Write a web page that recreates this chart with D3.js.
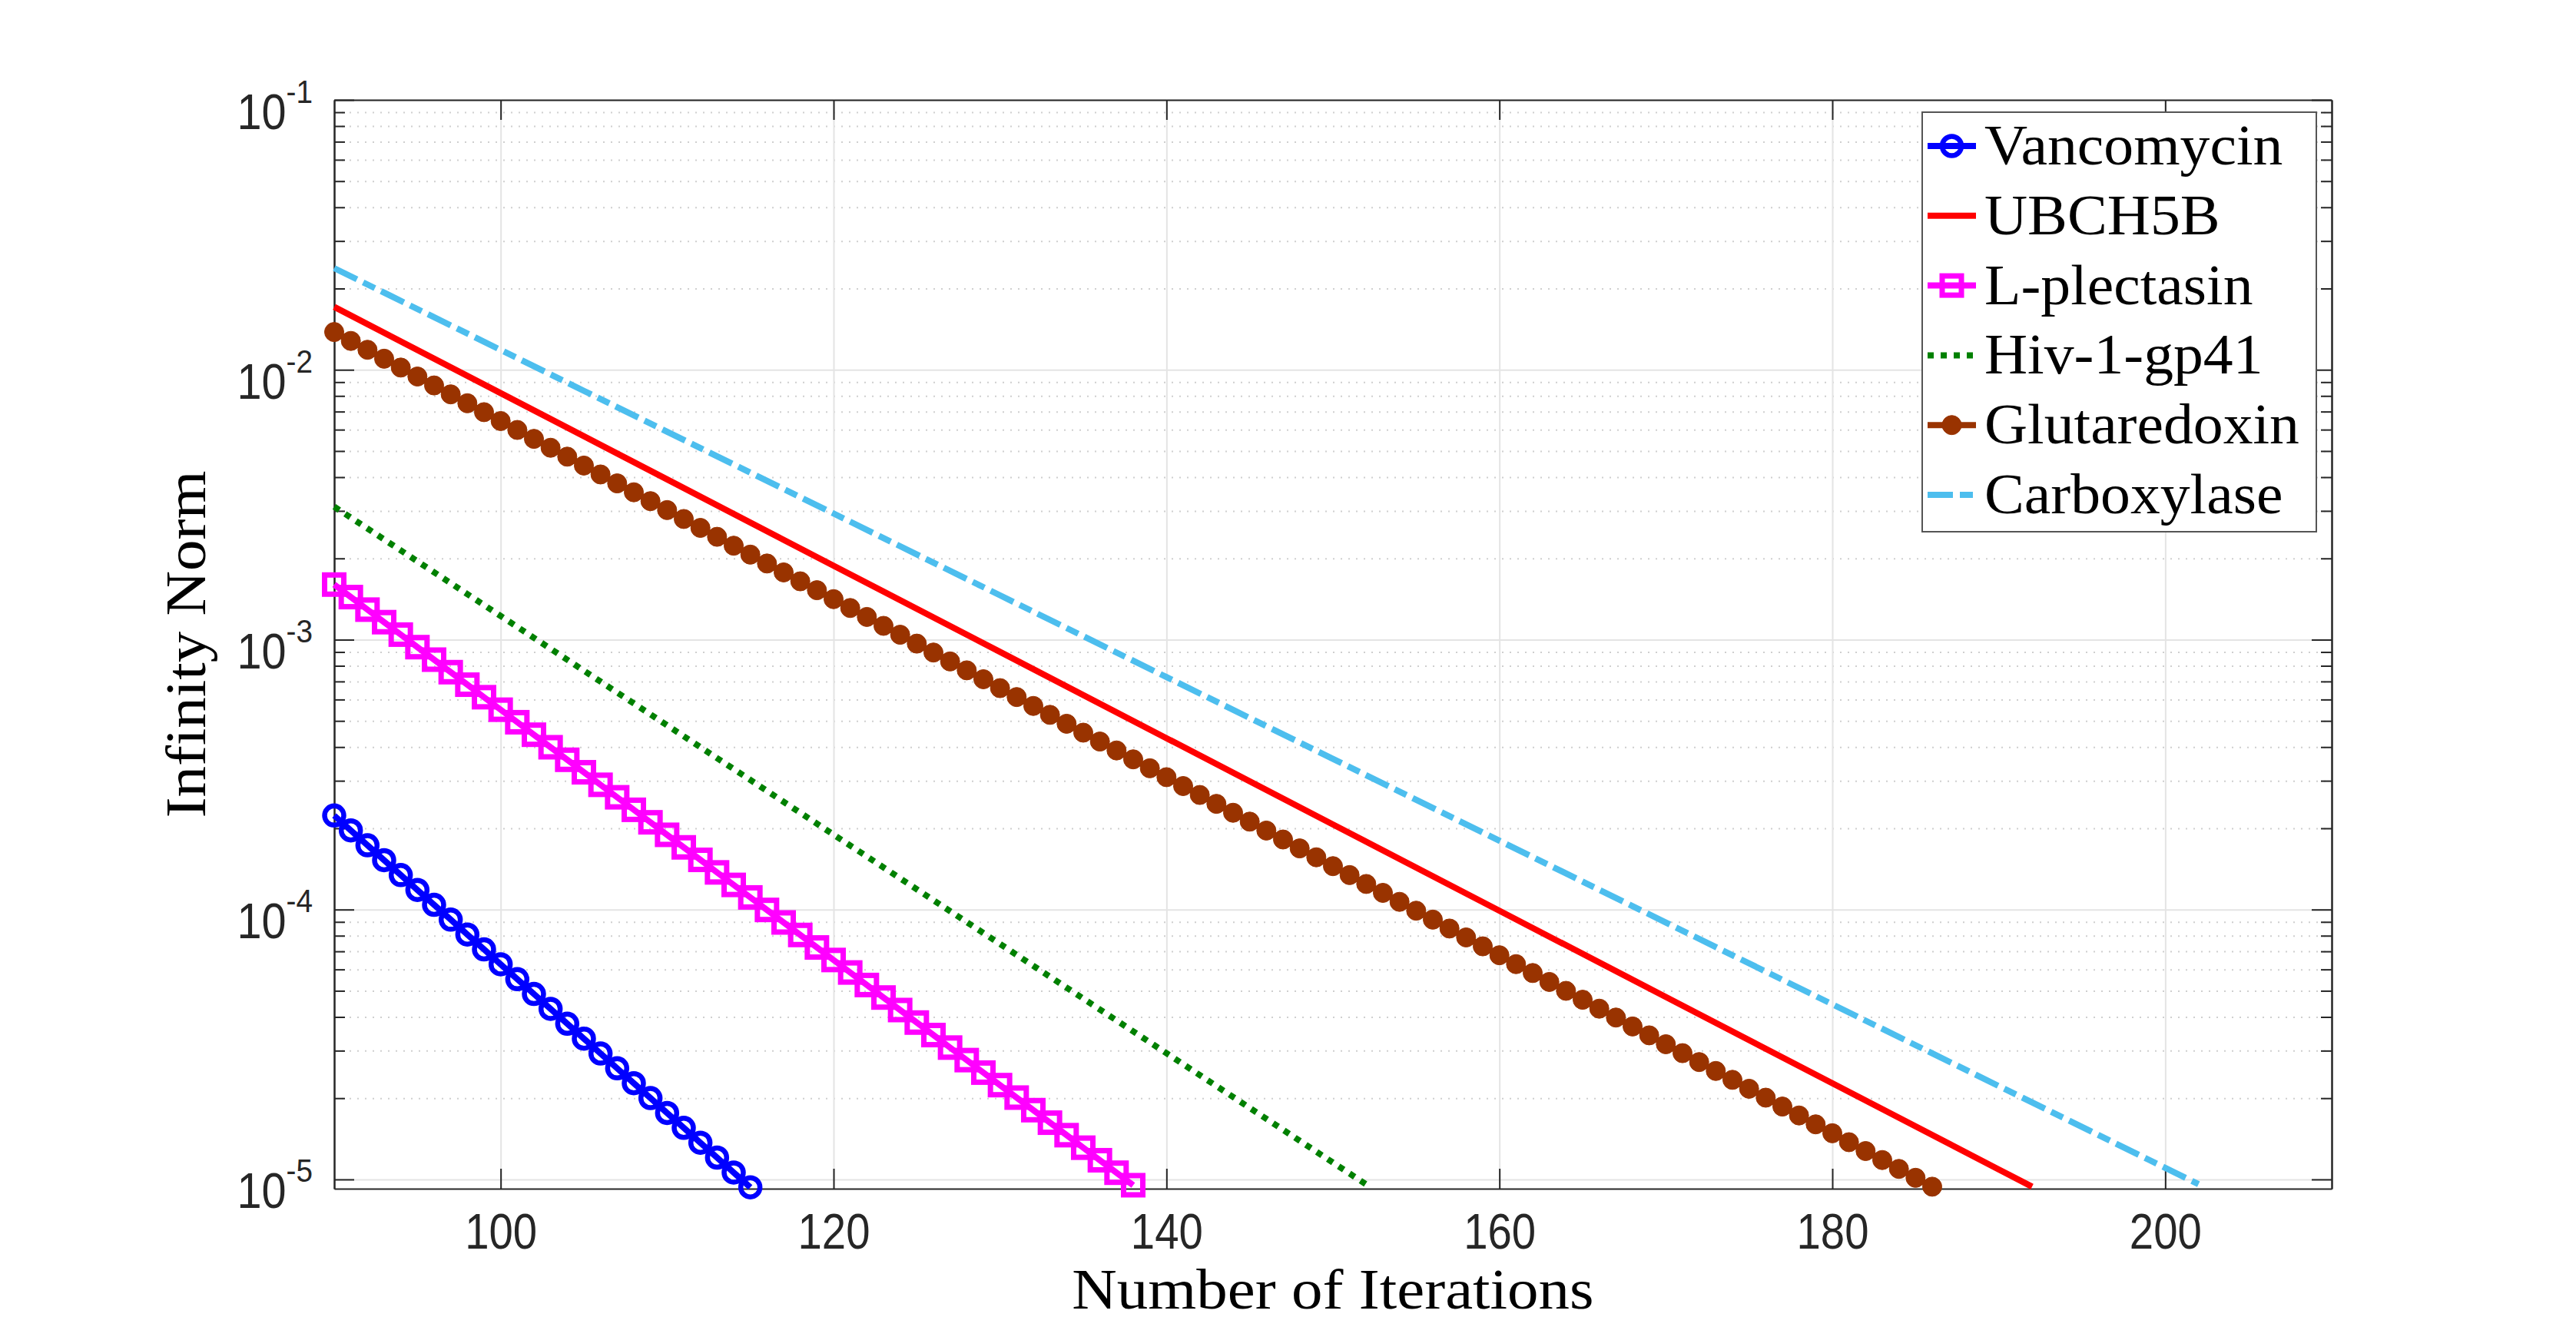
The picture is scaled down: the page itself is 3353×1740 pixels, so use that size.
<!DOCTYPE html>
<html lang="en">
<head>
<meta charset="UTF-8">
<title>Infinity Norm vs Number of Iterations</title>
<script src="https://cdn.jsdelivr.net/npm/d3@7"></script>
<style>
  html, body { margin: 0; padding: 0; background: #fff; }
  svg { display: block; }
</style>
</head>
<body>
<div id="chart"></div>
<script>
// ---- data ----
const xTicks = [100, 120, 140, 160, 180, 200];
const yTicks = [1e-5, 1e-4, 1e-3, 1e-2, 1e-1];
const yTickPowers = ["-5", "-4", "-3", "-2", "-1"];
const names = ["Vancomycin", "UBCH5B", "L-plectasin", "Hiv-1-gp41", "Glutaredoxin", "Carboxylase"];
const firstIter = 90;

// marker series: one value per iteration, starting at firstIter
const vancomycin = [2.230e-4, 1.965e-4, 1.730e-4, 1.524e-4, 1.342e-4, 1.182e-4, 1.041e-4, 9.175e-5,
  8.080e-5, 7.120e-5, 6.270e-5, 5.520e-5, 4.865e-5, 4.285e-5, 3.775e-5, 3.325e-5, 2.929e-5, 2.580e-5,
  2.273e-5, 2.002e-5, 1.763e-5, 1.553e-5, 1.368e-5, 1.205e-5, 1.061e-5, 9.350e-6];

const lplectasin = [1.600e-3, 1.438e-3, 1.292e-3, 1.161e-3, 1.044e-3, 9.382e-4, 8.432e-4, 7.578e-4,
  6.811e-4, 6.121e-4, 5.501e-4, 4.944e-4, 4.444e-4, 3.994e-4, 3.589e-4, 3.226e-4, 2.899e-4, 2.606e-4,
  2.342e-4, 2.105e-4, 1.892e-4, 1.700e-4, 1.528e-4, 1.373e-4, 1.234e-4, 1.109e-4, 9.968e-5, 8.958e-5,
  8.051e-5, 7.236e-5, 6.503e-5, 5.845e-5, 5.253e-5, 4.721e-5, 4.243e-5, 3.813e-5, 3.427e-5, 3.080e-5,
  2.768e-5, 2.488e-5, 2.236e-5, 2.010e-5, 1.806e-5, 1.623e-5, 1.459e-5, 1.311e-5, 1.178e-5, 1.059e-5,
  9.520e-6];

const glutaredoxin = [1.380e-2, 1.279e-2, 1.186e-2, 1.099e-2, 1.019e-2, 9.440e-3, 8.749e-3, 8.109e-3,
  7.516e-3, 6.966e-3, 6.457e-3, 5.985e-3, 5.547e-3, 5.141e-3, 4.765e-3, 4.417e-3, 4.094e-3, 3.794e-3,
  3.517e-3, 3.260e-3, 3.021e-3, 2.800e-3, 2.595e-3, 2.405e-3, 2.229e-3, 2.066e-3, 1.915e-3, 1.775e-3,
  1.645e-3, 1.525e-3, 1.413e-3, 1.310e-3, 1.214e-3, 1.125e-3, 1.043e-3, 9.668e-4, 8.960e-4, 8.305e-4,
  7.698e-4, 7.135e-4, 6.613e-4, 6.129e-4, 5.681e-4, 5.265e-4, 4.880e-4, 4.523e-4, 4.193e-4, 3.886e-4,
  3.602e-4, 3.338e-4, 3.094e-4, 2.868e-4, 2.658e-4, 2.464e-4, 2.284e-4, 2.117e-4, 1.962e-4, 1.818e-4,
  1.685e-4, 1.562e-4, 1.448e-4, 1.342e-4, 1.244e-4, 1.153e-4, 1.068e-4, 9.901e-5, 9.177e-5, 8.505e-5,
  7.883e-5, 7.307e-5, 6.772e-5, 6.277e-5, 5.818e-5, 5.392e-5, 4.998e-5, 4.632e-5, 4.293e-5, 3.979e-5,
  3.688e-5, 3.419e-5, 3.169e-5, 2.937e-5, 2.722e-5, 2.523e-5, 2.339e-5, 2.168e-5, 2.009e-5, 1.862e-5,
  1.726e-5, 1.600e-5, 1.483e-5, 1.374e-5, 1.274e-5, 1.180e-5, 1.094e-5, 1.014e-5, 9.400e-6];

// plain line series (no markers), read at these iterations
const hivIter = [90, 100, 110, 120, 130, 140, 150, 152];
const hivVals = [3.110e-3, 1.224e-3, 4.816e-4, 1.895e-4, 7.457e-5, 2.935e-5, 1.155e-5, 9.580e-6];

const ubchIter = [90, 100, 110, 120, 130, 140, 150, 160, 170, 180, 190, 192];
const ubchVals = [1.710e-2, 8.194e-3, 3.925e-3, 1.880e-3, 9.007e-4, 4.315e-4, 2.067e-4, 9.900e-5,
  4.744e-5, 2.273e-5, 1.089e-5, 9.400e-6];

const carbIter = [90, 100, 110, 120, 130, 140, 150, 160, 170, 180, 190, 200, 202];
const carbVals = [2.380e-2, 1.1845e-2, 5.895e-3, 2.934e-3, 1.460e-3, 7.266e-4, 3.616e-4, 1.800e-4,
  8.955e-5, 4.457e-5, 2.218e-5, 1.104e-5, 9.600e-6];

// ---- layout ----
const W = 3353, H = 1740;
const pL = 435, pR = 3035, pT = 130, pB = 1547;
const ink = "#262626";
const serif = "'Liberation Serif', 'DejaVu Serif', serif";
const sans = "'Liberation Sans', Arial, Helvetica, sans-serif";

const x = d3.scaleLinear().domain([90, 210]).range([pL, pR]);
const y = d3.scaleLog().domain([9.24e-6, 0.1]).range([pB, pT]);

const isMajor = t => yTicks.some(d => Math.abs(t / d - 1) < 1e-6);
const yMinor = y.ticks().filter(t => !isMajor(t));

const svg = d3.select("#chart").append("svg")
  .attr("width", W).attr("height", H)
  .attr("viewBox", `0 0 ${W} ${H}`);

svg.append("rect").attr("width", W).attr("height", H).attr("fill", "#fff");

// scale a text's width by k, keeping its height
function stretch(sel, k) {
  sel.each(function () {
    const w = this.getComputedTextLength();
    d3.select(this).attr("textLength", w * k).attr("lengthAdjust", "spacingAndGlyphs");
  });
}

// ---- grid ----
const grid = svg.append("g");
grid.append("g").attr("transform", `translate(${pL},0)`)
  .call(d3.axisLeft(y).tickValues(yMinor).tickSize(-(pR - pL)).tickFormat(""))
  .call(g => g.select(".domain").remove())
  .selectAll("line").attr("stroke", "#cfcfcf").attr("stroke-width", 2).attr("stroke-dasharray", "2,8");
grid.append("g").attr("transform", `translate(${pL},0)`)
  .call(d3.axisLeft(y).tickValues(yTicks).tickSize(-(pR - pL)).tickFormat(""))
  .call(g => g.select(".domain").remove())
  .selectAll("line").attr("stroke", "#e4e4e4").attr("stroke-width", 2);
grid.append("g").attr("transform", `translate(0,${pB})`)
  .call(d3.axisBottom(x).tickValues(xTicks).tickSize(-(pB - pT)).tickFormat(""))
  .call(g => g.select(".domain").remove())
  .selectAll("line").attr("stroke", "#e4e4e4").attr("stroke-width", 2);

// ---- axes (inward ticks, box on) ----
function styleAxis(g) {
  g.selectAll("line").attr("stroke", ink).attr("stroke-width", 2);
  g.select(".domain").attr("stroke", ink).attr("stroke-width", 2);
}
const axes = svg.append("g");
axes.append("g").attr("transform", `translate(${pL},0)`)
  .call(d3.axisLeft(y).tickValues(yMinor).tickSize(-14).tickSizeOuter(0).tickFormat(""))
  .call(styleAxis);
axes.append("g").attr("transform", `translate(${pR},0)`)
  .call(d3.axisRight(y).tickValues(yMinor).tickSize(-14).tickSizeOuter(0).tickFormat(""))
  .call(styleAxis);
axes.append("g").attr("transform", `translate(${pR},0)`)
  .call(d3.axisRight(y).tickValues(yTicks).tickSize(-26).tickSizeOuter(0).tickFormat(""))
  .call(styleAxis);
axes.append("g").attr("transform", `translate(0,${pT})`)
  .call(d3.axisTop(x).tickValues(xTicks).tickSize(-26).tickSizeOuter(0).tickFormat(""))
  .call(styleAxis);

const xAxis = axes.append("g").attr("transform", `translate(0,${pB})`)
  .call(d3.axisBottom(x).tickValues(xTicks).tickSize(-26).tickSizeOuter(0).tickPadding(33))
  .call(styleAxis);
xAxis.selectAll("text")
  .attr("fill", ink).attr("font-family", sans).attr("font-size", 64)
  .call(stretch, 0.88);

const yAxis = axes.append("g").attr("transform", `translate(${pL},0)`)
  .call(d3.axisLeft(y).tickValues(yTicks).tickSize(-26).tickSizeOuter(0).tickFormat(""))
  .call(styleAxis);
yAxis.selectAll(".tick").each(function (d, i) {
  const t = d3.select(this).append("text")
    .attr("x", -28).attr("y", 37)
    .attr("fill", ink).attr("font-family", sans).attr("font-size", 64)
    .attr("text-anchor", "end");
  t.append("tspan").text("10");
  t.append("tspan").attr("dy", -34).attr("font-size", 43).text(yTickPowers[i]);
  t.call(stretch, 0.9);
});

// ---- axis labels ----
svg.append("text")
  .attr("x", (pL + pR) / 2).attr("y", 1703)
  .attr("text-anchor", "middle")
  .attr("font-family", serif).attr("font-size", 75).attr("fill", "#000")
  .text("Number of Iterations")
  .call(stretch, 1.08);

svg.append("text")
  .attr("transform", `translate(267,${(pT + pB) / 2}) rotate(-90)`)
  .attr("text-anchor", "middle")
  .attr("font-family", serif).attr("font-size", 75).attr("fill", "#000")
  .text("Infinity Norm")
  .call(stretch, 1.08);

// ---- series ----
const series = [
  { name: names[0], pts: vancomycin.map((v, i) => [firstIter + i, v]), color: "#0000ff", dash: null, marker: "circle" },
  { name: names[1], pts: ubchIter.map((t, i) => [t, ubchVals[i]]), color: "#ff0000", dash: null, marker: null },
  { name: names[2], pts: lplectasin.map((v, i) => [firstIter + i, v]), color: "#ff00ff", dash: null, marker: "square" },
  { name: names[3], pts: hivIter.map((t, i) => [t, hivVals[i]]), color: "#008000", dash: "8,9", marker: null },
  { name: names[4], pts: glutaredoxin.map((v, i) => [firstIter + i, v]), color: "#993300", dash: null, marker: "dot" },
  { name: names[5], pts: carbIter.map((t, i) => [t, carbVals[i]]), color: "#4dbeee", dash: "33,9,17,9", marker: null }
];

const line = d3.line().x(d => x(d[0])).y(d => y(d[1]));

function drawMarkers(g, pts, s) {
  if (s.marker === "circle") {
    g.selectAll("circle").data(pts).join("circle")
      .attr("cx", d => x(d[0])).attr("cy", d => y(d[1])).attr("r", 12.5)
      .attr("fill", "none").attr("stroke", s.color).attr("stroke-width", 6.5);
  } else if (s.marker === "square") {
    g.selectAll("rect").data(pts).join("rect")
      .attr("x", d => x(d[0]) - 12.5).attr("y", d => y(d[1]) - 12.5)
      .attr("width", 25).attr("height", 25)
      .attr("fill", "none").attr("stroke", s.color).attr("stroke-width", 7);
  } else if (s.marker === "dot") {
    g.selectAll("circle").data(pts).join("circle")
      .attr("cx", d => x(d[0])).attr("cy", d => y(d[1])).attr("r", 12.5)
      .attr("fill", s.color).attr("stroke", s.color).attr("stroke-width", 1);
  }
}

const plot = svg.append("g");
series.forEach(s => {
  const g = plot.append("g");
  g.append("path").datum(s.pts)
    .attr("d", line)
    .attr("fill", "none").attr("stroke", s.color).attr("stroke-width", 8)
    .attr("stroke-dasharray", s.dash);
  drawMarkers(g, s.pts, s);
});

// ---- legend ----
const legend = svg.append("g");
legend.append("rect")
  .attr("x", 2502).attr("y", 146).attr("width", 513).attr("height", 546)
  .attr("fill", "#fff").attr("stroke", "#555").attr("stroke-width", 2);

series.forEach((s, i) => {
  const ry = 190 + i * 90.8;
  const g = legend.append("g");
  g.append("line")
    .attr("x1", 2509).attr("x2", 2572).attr("y1", ry).attr("y2", ry)
    .attr("stroke", s.color).attr("stroke-width", 8)
    .attr("stroke-dasharray", s.dash);
  if (s.marker === "circle") {
    g.append("circle").attr("cx", 2540.5).attr("cy", ry).attr("r", 12.5)
      .attr("fill", "none").attr("stroke", s.color).attr("stroke-width", 6.5);
  } else if (s.marker === "square") {
    g.append("rect").attr("x", 2528).attr("y", ry - 12.5).attr("width", 25).attr("height", 25)
      .attr("fill", "none").attr("stroke", s.color).attr("stroke-width", 7);
  } else if (s.marker === "dot") {
    g.append("circle").attr("cx", 2540.5).attr("cy", ry).attr("r", 12.5)
      .attr("fill", s.color).attr("stroke", s.color).attr("stroke-width", 1);
  }
  g.append("text")
    .attr("x", 2583).attr("y", ry + 24)
    .attr("font-family", serif).attr("font-size", 74).attr("fill", "#000")
    .text(s.name)
    .call(stretch, 1.05);
});
</script>
</body>
</html>
